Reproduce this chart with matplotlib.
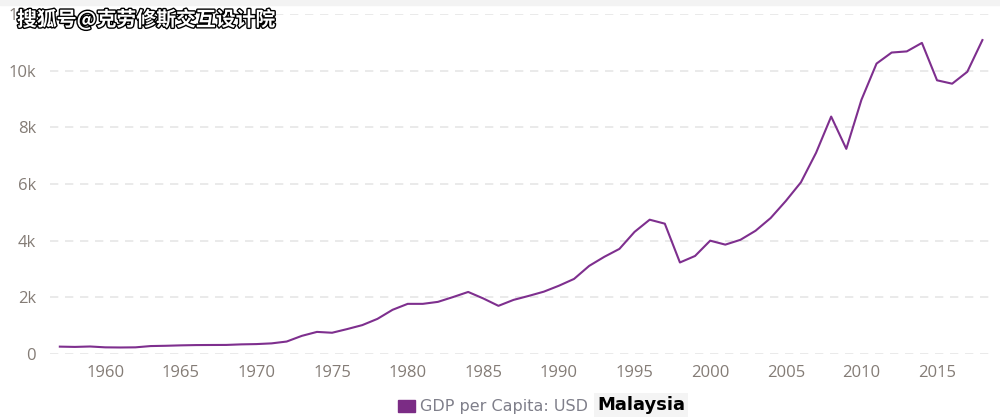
import numpy as np
import matplotlib.pyplot as plt
import matplotlib.patheffects as pe

years = list(range(1957, 2019))
gdp_per_capita = [
    260, 250, 265, 235, 230, 235, 280, 290, 305, 315,
    318, 320, 340, 350, 375, 440, 640, 780, 750, 880,
    1020, 1240, 1560, 1770, 1770, 1840, 2010, 2190, 1960, 1700,
    1910, 2050, 2200, 2410, 2650, 3110, 3430, 3710, 4310, 4740,
    4600, 3230, 3460, 4000, 3860, 4030, 4350, 4800, 5400, 6060,
    7100, 8380, 7240, 8970, 10250, 10640, 10680, 10980, 9660, 9540,
    9960, 11080,
]
ytick_vals = [0, 2000, 4000, 6000, 8000, 10000, 12000]
ytick_labels = ["0", "2k", "4k", "6k", "8k", "10k", "12k"]
xtick_vals = [1960, 1965, 1970, 1975, 1980, 1985, 1990, 1995, 2000, 2005, 2010, 2015]

line_color = "#7e2f8e"
label_color = "#847c76"

fig = plt.figure(figsize=(10, 4.19), dpi=100)
ax = fig.add_axes([0.050, 65 / 419, 0.943, 340 / 419])

ax.plot(years, gdp_per_capita, color=line_color, lw=1.5)

ax.set_xlim(1956.35, 2018.7)
ax.set_ylim(0, 12000)
ax.set_yticks(ytick_vals)
ax.set_yticklabels(ytick_labels)
ax.set_xticks(xtick_vals)
ax.tick_params(axis="both", length=0, labelsize=12, labelcolor=label_color)
ax.tick_params(axis="x", pad=8)
ax.tick_params(axis="y", pad=10)
for lbl in ax.get_xticklabels() + ax.get_yticklabels():
    lbl.set_family("Open Sans")
ax.grid(axis="y", color="#e6e6e6", lw=1.2, ls=(0, (5, 4)))
ax.set_axisbelow(True)
for s in ax.spines.values():
    s.set_visible(False)

# light band at very top
fig.patches.append(plt.Rectangle((0, 1 - 5 / 419), 1, 5 / 419, transform=fig.transFigure,
                                 color="#f3f3f3", zorder=0))

# legend at the bottom
fig.patches.append(plt.Rectangle((398 / 1000, 7 / 419), 17 / 1000, 12 / 419,
                                 transform=fig.transFigure, color="#7b2c85"))
fig.text(420 / 1000, 13 / 419, "GDP per Capita: USD", color="#7f7f8a", fontsize=11.5,
         va="center", ha="left", family="Liberation Sans Narrow")
fig.text(597 / 1000, 14 / 419, "Malaysia", color="black", fontsize=13, fontweight="bold",
         va="center", ha="left",
         bbox=dict(boxstyle="square,pad=0.15", fc="#f4f4f4", ec="none"))

# watermark (covers the 12k label, as in the source image)
fig.text(17 / 1000, 1 - 20 / 419, "搜狐号@克劳修斯交互设计院", color="white", fontsize=14.3,
         fontweight="bold", va="center", ha="left",
         family=["Noto Sans CJK SC", "DejaVu Sans"],
         path_effects=[pe.withStroke(linewidth=2, foreground="black")])

fig.savefig("out.png", dpi=100)
